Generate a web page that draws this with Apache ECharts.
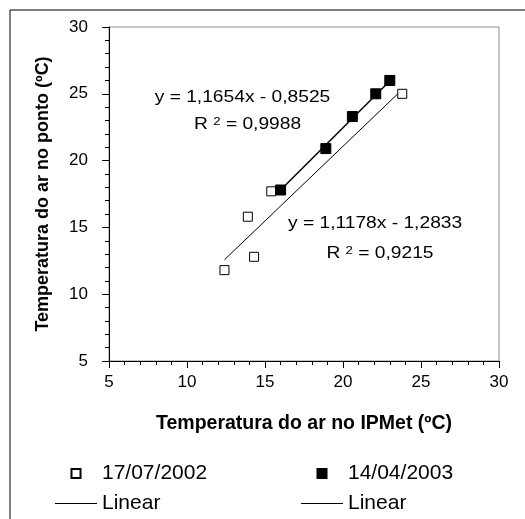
<!DOCTYPE html>
<html>
<head>
<meta charset="utf-8">
<script src="https://cdn.jsdelivr.net/npm/echarts@6/dist/echarts.min.js"></script>
<style>html,body{margin:0;padding:0;background:#fff;}#c{width:525px;height:519px;}</style>
</head>
<body>
<div id="c"></div>
<script>
// Data
const xOpen   = [12.4, 13.9, 14.3, 15.4, 23.8];   // 17/07/2002
const yOpen   = [11.8, 15.8, 12.8, 17.7, 25.0];
const xFilled = [16.0, 18.9, 20.6, 22.1, 23.0];   // 14/04/2003
const yFilled = [17.8, 20.9, 23.3, 25.0, 26.0];
const seriesNames = ['17/07/2002', '14/04/2003'];
const trendNames = ['Linear', 'Linear '];
const slopes = [1.1178, 1.1654];
const intercepts = [-1.2833, -0.8525];
const eqTexts = ['y = 1,1178x - 1,2833', 'y = 1,1654x - 0,8525'];
const r2Texts = ['0,9215', '0,9988'];
const axisMin = 5, axisMax = 30, axisStep = 5;

const FONT = '"Liberation Sans", Arial, sans-serif';

function pairs(xs, ys) { return xs.map((x, i) => [x, ys[i]]); }
function trend(xs, k) {
  const lo = Math.min(...xs), hi = Math.max(...xs);
  return [[lo, slopes[k] * lo + intercepts[k]], [hi, slopes[k] * hi + intercepts[k]]];
}

const chart = echarts.init(document.getElementById('c'), null, {renderer: 'canvas'});

const sqPath = 'path://M0,0L10,0L10,10L0,10Z';
const linePath = 'path://M0,0L42,0L42,1L0,1Z';
const legendText = {color: '#000', fontSize: 21, fontFamily: FONT};

function eqGraphic(x, y, txt) {
  return {type: 'text', x: x, y: y, scaleX: 1.2, z: 100,
    style: {text: txt, fill: '#000', font: '16px ' + FONT, textAlign: 'left', textVerticalAlign: 'middle'}};
}
function r2Graphic(x, y, val) {
  return {type: 'text', x: x, y: y, scaleX: 1.2, z: 100,
    style: {text: '{a|R }{s|2}{a| = ' + val + '}', textAlign: 'left', textVerticalAlign: 'middle',
      rich: {a: {fontSize: 16, fontFamily: FONT, fill: '#000', color: '#000'},
             s: {fontSize: 11, fontFamily: FONT, fill: '#000', color: '#000', verticalAlign: 'top'}}}};
}

const axisCommon = {
  type: 'value', min: axisMin, max: axisMax, interval: axisStep,
  axisLine: {show: true, onZero: false, lineStyle: {color: '#000', width: 1}},
  axisTick: {show: true, length: 7, lineStyle: {color: '#000', width: 1}},
  minorTick: {show: true, splitNumber: 5, length: 4, lineStyle: {color: '#000', width: 1}},
  splitLine: {show: false},
  axisLabel: {color: '#000', fontSize: 17, fontFamily: FONT},
  nameLocation: 'middle',
  nameTextStyle: {color: '#000', fontSize: 18, fontWeight: 'bold', fontFamily: FONT}
};

chart.setOption({
  animation: false,
  backgroundColor: '#fff',
  grid: {left: 109, top: 27, width: 390, height: 334, show: true, borderColor: '#8c8c8c', borderWidth: 1, containLabel: false},
  xAxis: Object.assign({}, axisCommon, {
    name: 'Temperatura do ar no IPMet (ºC)', nameGap: 53,
    nameTextStyle: Object.assign({}, axisCommon.nameTextStyle, {fontSize: 19.5}),
    axisLabel: Object.assign({}, axisCommon.axisLabel, {margin: 13})
  }),
  yAxis: Object.assign({}, axisCommon, {
    name: 'Temperatura do ar no ponto (ºC)', nameGap: 57,
    axisLabel: Object.assign({}, axisCommon.axisLabel, {margin: 21})
  }),
  legend: [
    {orient: 'vertical', left: 55, top: 463, padding: 0, itemWidth: 42, itemHeight: 9, itemGap: 9, selectedMode: false,
     textStyle: legendText,
     data: [{name: seriesNames[0], icon: sqPath}, {name: trendNames[0], icon: linePath}]},
    {orient: 'vertical', left: 301, top: 463, padding: 0, itemWidth: 42, itemHeight: 9, itemGap: 9, selectedMode: false,
     textStyle: legendText,
     data: [{name: seriesNames[1], icon: sqPath}, {name: trendNames[1], icon: linePath}]}
  ],
  graphic: [
    {type: 'rect', shape: {x: 10, y: 10, width: 600, height: 600}, style: {fill: 'none', stroke: '#000', lineWidth: 1}, z: 0},
    eqGraphic(154.7, 98, eqTexts[1]),
    r2Graphic(194, 124.5, r2Texts[1]),
    eqGraphic(288, 223.6, eqTexts[0]),
    r2Graphic(326.4, 253.4, r2Texts[0])
  ],
  series: [
    {name: trendNames[0], type: 'line', data: trend(xOpen, 0), symbol: 'none', showSymbol: false,
     itemStyle: {color: '#000'}, lineStyle: {color: '#000', width: 1}, z: 2, silent: true},
    {name: trendNames[1], type: 'line', data: trend(xFilled, 1), symbol: 'none', showSymbol: false,
     itemStyle: {color: '#000'}, lineStyle: {color: '#000', width: 1.5}, z: 2, silent: true},
    {name: seriesNames[0], type: 'scatter', data: pairs(xOpen, yOpen), symbol: 'rect', symbolSize: 9,
     itemStyle: {color: '#fff', borderColor: '#000', borderWidth: 1, opacity: 1}, z: 3},
    {name: seriesNames[1], type: 'scatter', data: pairs(xFilled, yFilled), symbol: 'rect', symbolSize: 10,
     itemStyle: {color: '#000', borderColor: '#000', borderWidth: 1, opacity: 1}, z: 4}
  ]
});
</script>
</body>
</html>
